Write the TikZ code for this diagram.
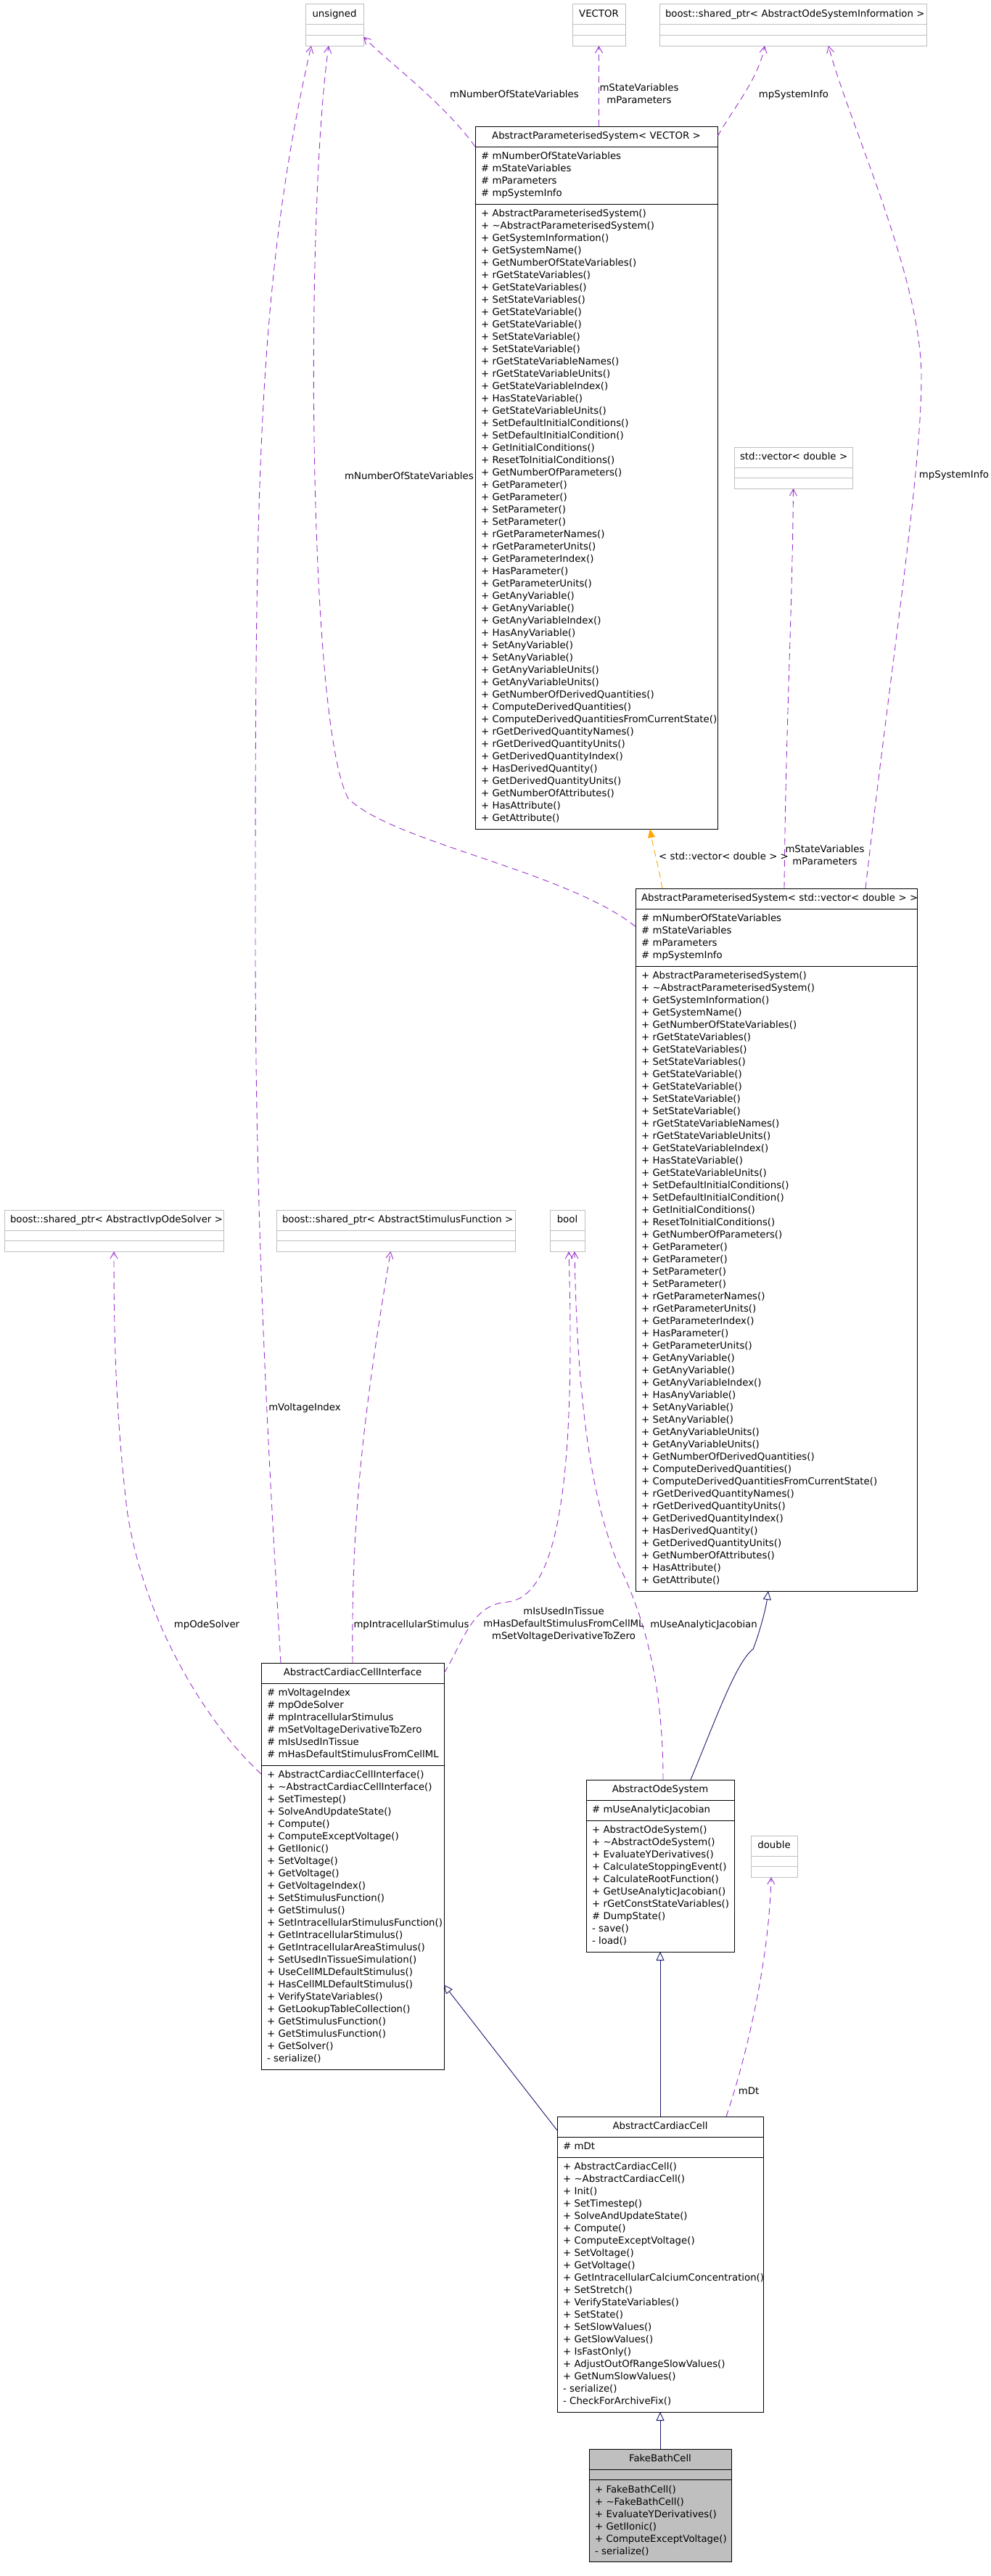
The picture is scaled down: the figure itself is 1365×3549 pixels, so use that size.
\documentclass[tikz,border=0pt]{standalone}
\usepackage{fontspec}
\setmainfont{DejaVu Sans}
\usetikzlibrary{arrows.meta, positioning}
\definecolor{edgepurple}{HTML}{9A32CD}
\definecolor{edgenavy}{HTML}{191970}
\definecolor{edgeorange}{HTML}{FFA500}
\definecolor{boxgray}{HTML}{BFBFBF}
\newcommand{\umlfont}{\fontsize{13.3}{17}\selectfont}
\newcommand{\rows}[1]{\begin{tabular}{@{}l@{}}#1\end{tabular}}
\newcommand{\apsops}{+ AbstractParameterisedSystem()\\+ \textasciitilde AbstractParameterisedSystem()\\+ GetSystemInformation()\\+ GetSystemName()\\+ GetNumberOfStateVariables()\\+ rGetStateVariables()\\+ GetStateVariables()\\+ SetStateVariables()\\+ GetStateVariable()\\+ GetStateVariable()\\+ SetStateVariable()\\+ SetStateVariable()\\+ rGetStateVariableNames()\\+ rGetStateVariableUnits()\\+ GetStateVariableIndex()\\+ HasStateVariable()\\+ GetStateVariableUnits()\\+ SetDefaultInitialConditions()\\+ SetDefaultInitialCondition()\\+ GetInitialConditions()\\+ ResetToInitialConditions()\\+ GetNumberOfParameters()\\+ GetParameter()\\+ GetParameter()\\+ SetParameter()\\+ SetParameter()\\+ rGetParameterNames()\\+ rGetParameterUnits()\\+ GetParameterIndex()\\+ HasParameter()\\+ GetParameterUnits()\\+ GetAnyVariable()\\+ GetAnyVariable()\\+ GetAnyVariableIndex()\\+ HasAnyVariable()\\+ SetAnyVariable()\\+ SetAnyVariable()\\+ GetAnyVariableUnits()\\+ GetAnyVariableUnits()\\+ GetNumberOfDerivedQuantities()\\+ ComputeDerivedQuantities()\\+ ComputeDerivedQuantitiesFromCurrentState()\\+ rGetDerivedQuantityNames()\\+ rGetDerivedQuantityUnits()\\+ GetDerivedQuantityIndex()\\+ HasDerivedQuantity()\\+ GetDerivedQuantityUnits()\\+ GetNumberOfAttributes()\\+ HasAttribute()\\+ GetAttribute()}
\newcommand{\apsattrs}{\# mNumberOfStateVariables\\\# mStateVariables\\\# mParameters\\\# mpSystemInfo}
\tikzstyle{clshead} = [draw=black, line width=1pt, outer sep=0pt, anchor=north, inner xsep=8pt, inner ysep=5.5pt,
                       align=center, font=\umlfont]
\tikzstyle{clspart} = [draw=black, line width=1pt, outer sep=0pt, inner xsep=8pt, inner ysep=5.5pt,
                       align=left, font=\umlfont]
\tikzstyle{typehead} = [clshead, draw=boxgray]
\tikzstyle{typepart} = [clspart, draw=boxgray]
\tikzstyle{focushead} = [clshead, fill=boxgray]
\tikzstyle{focuspart} = [clspart, fill=boxgray]
\tikzstyle{lbl} = [font=\umlfont, inner sep=0pt, align=center, execute at begin node=\strut, execute at end node=\strut]
\tikzstyle{usage} = [edgepurple, line width=0.9pt, dash pattern=on 9pt off 6pt, -{Straight Barb[length=9pt, width=10pt]}]
\tikzstyle{inherit} = [edgenavy, line width=0.9pt, -{Triangle[open, length=12pt, width=11pt]}]
\tikzstyle{tmpl} = [edgeorange, line width=0.9pt, dash pattern=on 9pt off 6pt, -{Triangle[length=12pt, width=10pt]}]

\begin{document}
\begin{tikzpicture}[x=1pt, y=-1pt]
    \useasboundingbox[fill=white] (0,0) rectangle (1365,3549);

    % plain types
    \node (unsignedT) [typehead, text width=64pt] at (461,6) {\rows{unsigned}};
    \node (unsignedA) [typepart, text width=64pt, below=0pt of unsignedT] {\rows{}};
    \node (unsignedM) [typepart, text width=64pt, below=0pt of unsignedA] {\rows{}};
    \node (vectorT) [typehead, text width=57pt] at (825.5,6) {\rows{VECTOR}};
    \node (vectorA) [typepart, text width=57pt, below=0pt of vectorT] {\rows{}};
    \node (vectorM) [typepart, text width=57pt, below=0pt of vectorA] {\rows{}};
    \node (aodsiT) [typehead, text width=352pt] at (1093,6) {\rows{boost::shared\_ptr< AbstractOdeSystemInformation >}};
    \node (aodsiA) [typepart, text width=352pt, below=0pt of aodsiT] {\rows{}};
    \node (aodsiM) [typepart, text width=352pt, below=0pt of aodsiA] {\rows{}};
    \node (stdvecT) [typehead, text width=147pt] at (1093.5,616) {\rows{std::vector< double >}};
    \node (stdvecA) [typepart, text width=147pt, below=0pt of stdvecT] {\rows{}};
    \node (stdvecM) [typepart, text width=147pt, below=0pt of stdvecA] {\rows{}};
    \node (ivpT) [typehead, text width=286pt] at (157,1667) {\rows{boost::shared\_ptr< AbstractIvpOdeSolver >}};
    \node (ivpA) [typepart, text width=286pt, below=0pt of ivpT] {\rows{}};
    \node (ivpM) [typepart, text width=286pt, below=0pt of ivpA] {\rows{}};
    \node (stimT) [typehead, text width=313pt] at (545.5,1667) {\rows{boost::shared\_ptr< AbstractStimulusFunction >}};
    \node (stimA) [typepart, text width=313pt, below=0pt of stimT] {\rows{}};
    \node (stimM) [typepart, text width=313pt, below=0pt of stimA] {\rows{}};
    \node (boolT) [typehead, text width=32pt] at (782,1667) {\rows{bool}};
    \node (boolA) [typepart, text width=32pt, below=0pt of boolT] {\rows{}};
    \node (boolM) [typepart, text width=32pt, below=0pt of boolA] {\rows{}};
    \node (doubleT) [typehead, text width=48pt] at (1067,2529) {\rows{double}};
    \node (doubleA) [typepart, text width=48pt, below=0pt of doubleT] {\rows{}};
    \node (doubleM) [typepart, text width=48pt, below=0pt of doubleA] {\rows{}};

    % classes
    \node (apsvT) [clshead, text width=318pt] at (822,174) {\rows{AbstractParameterisedSystem< VECTOR >}};
    \node (apsvA) [clspart, text width=318pt, below=0pt of apsvT] {\rows{\apsattrs}};
    \node (apsvO) [clspart, text width=318pt, below=0pt of apsvA] {\rows{\apsops}};
    \node (apsvdT) [clshead, text width=372pt] at (1070,1224) {\rows{AbstractParameterisedSystem< std::vector< double > >}};
    \node (apsvdA) [clspart, text width=372pt, below=0pt of apsvdT] {\rows{\apsattrs}};
    \node (apsvdO) [clspart, text width=372pt, below=0pt of apsvdA] {\rows{\apsops}};
    \node (acciT) [clshead, text width=236pt] at (486,2291) {\rows{AbstractCardiacCellInterface}};
    \node (acciA) [clspart, text width=236pt, below=0pt of acciT] {\rows{\# mVoltageIndex\\\# mpOdeSolver\\\# mpIntracellularStimulus\\\# mSetVoltageDerivativeToZero\\\# mIsUsedInTissue\\\# mHasDefaultStimulusFromCellML}};
    \node (acciO) [clspart, text width=236pt, below=0pt of acciA] {\rows{+ AbstractCardiacCellInterface()\\+ \textasciitilde AbstractCardiacCellInterface()\\+ SetTimestep()\\+ SolveAndUpdateState()\\+ Compute()\\+ ComputeExceptVoltage()\\+ GetIIonic()\\+ SetVoltage()\\+ GetVoltage()\\+ GetVoltageIndex()\\+ SetStimulusFunction()\\+ GetStimulus()\\+ SetIntracellularStimulusFunction()\\+ GetIntracellularStimulus()\\+ GetIntracellularAreaStimulus()\\+ SetUsedInTissueSimulation()\\+ UseCellMLDefaultStimulus()\\+ HasCellMLDefaultStimulus()\\+ VerifyStateVariables()\\+ GetLookupTableCollection()\\+ GetStimulusFunction()\\+ GetStimulusFunction()\\+ GetSolver()\\- serialize()}};
    \node (aosT) [clshead, text width=188pt] at (910,2452) {\rows{AbstractOdeSystem}};
    \node (aosA) [clspart, text width=188pt, below=0pt of aosT] {\rows{\# mUseAnalyticJacobian}};
    \node (aosO) [clspart, text width=188pt, below=0pt of aosA] {\rows{+ AbstractOdeSystem()\\+ \textasciitilde AbstractOdeSystem()\\+ EvaluateYDerivatives()\\+ CalculateStoppingEvent()\\+ CalculateRootFunction()\\+ GetUseAnalyticJacobian()\\+ rGetConstStateVariables()\\\# DumpState()\\- save()\\- load()}};
    \node (accT) [clshead, text width=268pt] at (910,2916) {\rows{AbstractCardiacCell}};
    \node (accA) [clspart, text width=268pt, below=0pt of accT] {\rows{\# mDt}};
    \node (accO) [clspart, text width=268pt, below=0pt of accA] {\rows{+ AbstractCardiacCell()\\+ \textasciitilde AbstractCardiacCell()\\+ Init()\\+ SetTimestep()\\+ SolveAndUpdateState()\\+ Compute()\\+ ComputeExceptVoltage()\\+ SetVoltage()\\+ GetVoltage()\\+ GetIntracellularCalciumConcentration()\\+ SetStretch()\\+ VerifyStateVariables()\\+ SetState()\\+ SetSlowValues()\\+ GetSlowValues()\\+ IsFastOnly()\\+ AdjustOutOfRangeSlowValues()\\+ GetNumSlowValues()\\- serialize()\\- CheckForArchiveFix()}};
    \node (fbcT) [focushead, text width=180pt] at (910,3374) {\rows{FakeBathCell}};
    \node (fbcA) [focuspart, text width=180pt, below=0pt of fbcT] {\rows{}};
    \node (fbcO) [focuspart, text width=180pt, below=0pt of fbcA] {\rows{+ FakeBathCell()\\+ \textasciitilde FakeBathCell()\\+ EvaluateYDerivatives()\\+ GetIIonic()\\+ ComputeExceptVoltage()\\- serialize()}};

    % member edges
    \draw[usage] (apsvT.south west) .. controls (610,140) and (540,90) .. ([yshift=5pt]unsignedM.east);
    \draw[usage] (apsvT.north -| vectorM.south) -- (vectorM.south);
    \draw[usage] (apsvT.east) .. controls (1010,150) and (1045,110) .. ([xshift=-39pt]aodsiM.south);
    \draw[usage] ([xshift=123pt]apsvdT.north) .. controls (1230,900) and (1270,650) .. (1270,520)
        .. controls (1270,380) and (1170,170) .. ([xshift=49pt]aodsiM.south);
    \draw[usage] ([xshift=11pt]apsvdT.north) .. controls (1083,1000) and (1092,850) .. (stdvecM.south);
    \draw[usage] ([yshift=15pt]apsvdA.west) .. controls (780,1200) and (540,1160) .. (480,1100)
        .. controls (425,1000) and (420,300) .. ([xshift=-8pt]unsignedM.south);
    \draw[usage] ([xshift=-99pt]acciT.north) .. controls (370,2000) and (352,1700) .. (352,1300)
        .. controls (352,700) and (352,400) .. ([xshift=-32pt]unsignedM.south);
    \draw[usage] ([yshift=-12pt]acciO.north west) .. controls (300,2390) and (200,2250) .. (175,2080)
        .. controls (160,1950) and (157,1850) .. (ivpM.south);
    \draw[usage] (acciT.north) .. controls (484,2100) and (500,1950) .. ([xshift=-7pt]stimM.south);
    \draw[usage] (acciT.east) .. controls (640,2260) and (650,2210) .. (700,2207)
        .. controls (760,2200) and (795,2080) .. ([xshift=2pt]boolM.south);
    \draw[usage] ([xshift=4pt]aosT.north) .. controls (914,2300) and (880,2210) .. (850,2150)
        .. controls (810,2050) and (795,1900) .. ([xshift=10pt]boolM.south);
    \draw[usage] ([xshift=91pt]accT.north) .. controls (1030,2830) and (1060,2700) .. ([xshift=-4pt]doubleM.south);

    % inheritance and template edges
    \draw[inherit] ([xshift=42pt]aosT.north) .. controls (990,2360) and (1015,2290) .. (1038,2272)
        .. controls (1045,2255) and (1055,2220) .. ([xshift=-11pt]apsvdO.south);
    \draw[inherit] (accT.north) -- (aosO.south);
    \draw[inherit] ([yshift=-19pt]accT.north west) -- ([yshift=-93pt]acciO.east);
    \draw[inherit] (fbcT.north) -- (accO.south);
    \draw[tmpl] ([xshift=-157pt]apsvdT.north) .. controls (908,1195) and (900,1165) .. ([xshift=74pt]apsvO.south);

    % edge labels
    \node (lblNsvTop) [lbl] at (709,131) {mNumberOfStateVariables};
    \node (lblVecTop) [lbl] at (881,131.5) {mStateVariables\\mParameters};
    \node (lblInfoTop) [lbl] at (1094,131) {mpSystemInfo};
    \node (lblInfoRight) [lbl] at (1315,655) {mpSystemInfo};
    \node (lblVecMid) [lbl] at (1137,1180.5) {mStateVariables\\mParameters};
    \node (lblTmpl) [lbl, anchor=west] at (908,1181) {< std::vector< double > >};
    \node (lblNsvMid) [lbl] at (564,657) {mNumberOfStateVariables};
    \node (lblVoltIdx) [lbl] at (420,1940) {mVoltageIndex};
    \node (lblOdeSolver) [lbl] at (285,2239) {mpOdeSolver};
    \node (lblStim) [lbl] at (567,2239) {mpIntracellularStimulus};
    \node (lblFlags) [lbl] at (777,2239) {mIsUsedInTissue\\mHasDefaultStimulusFromCellML\\mSetVoltageDerivativeToZero};
    \node (lblJac) [lbl] at (970,2239) {mUseAnalyticJacobian};
    \node (lblDt) [lbl] at (1032,2882) {mDt};
\end{tikzpicture}
\end{document}
